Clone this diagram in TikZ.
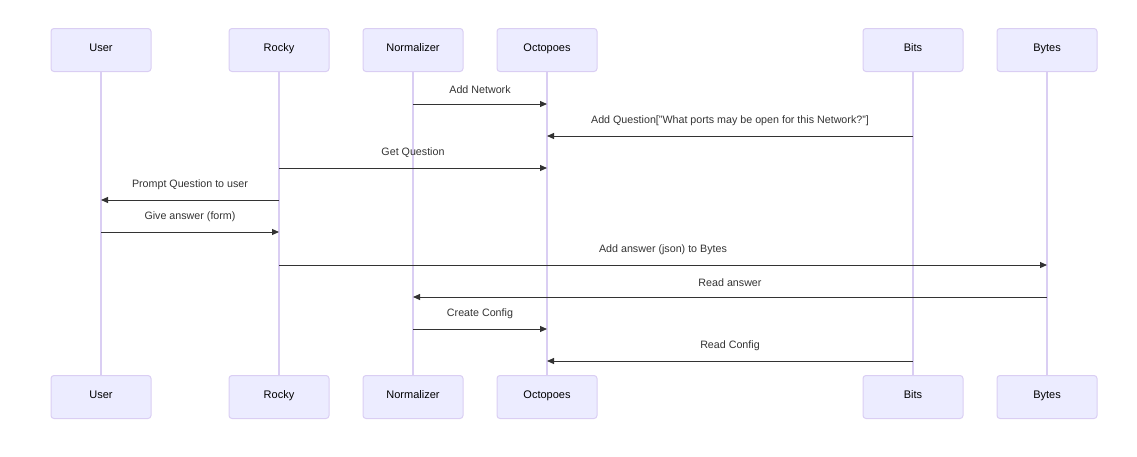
\documentclass[tikz,border=0pt]{standalone}
\usepackage{fontspec}
\setmainfont{Liberation Sans}
\usetikzlibrary{arrows.meta}
\definecolor{actfill}{HTML}{ECECFF}
\definecolor{actline}{HTML}{DACEF3}
\definecolor{msgcol}{HTML}{333333}
\tikzset{
  actor/.style={draw=actline, fill=actfill, line width=1pt, rounded corners=3pt,
    minimum width=100pt, minimum height=43pt, inner sep=0pt, anchor=north,
    font=\fontsize{11}{13}\selectfont, text=black, text depth=0pt},
  life/.style={draw=actline, line width=1.5pt},
  msg/.style={draw=msgcol, line width=1pt, -{Triangle[length=7pt,width=6pt]}},
  lbl/.style={font=\fontsize{10.7}{13}\selectfont, text=msgcol, inner sep=0pt}
}
\begin{document}
\begin{tikzpicture}[x=1pt,y=-1pt]
\useasboundingbox (0,0) rectangle (1137,456);
% top actors
\node[actor] (ut) at (101,28) {\raisebox{5pt}{User}};
\node[actor] (rt) at (279,28) {\raisebox{5pt}{Rocky}};
\node[actor] (nt) at (413,28) {\raisebox{5pt}{Normalizer}};
\node[actor] (ot) at (547,28) {\raisebox{5pt}{Octopoes}};
\node[actor] (bt) at (913,28) {\raisebox{5pt}{Bits}};
\node[actor] (yt) at (1047,28) {\raisebox{5pt}{Bytes}};
% bottom actors
\node[actor] (ub) at (101,375) {\raisebox{5pt}{User}};
\node[actor] (rb) at (279,375) {\raisebox{5pt}{Rocky}};
\node[actor] (nb) at (413,375) {\raisebox{5pt}{Normalizer}};
\node[actor] (ob) at (547,375) {\raisebox{5pt}{Octopoes}};
\node[actor] (bb) at (913,375) {\raisebox{5pt}{Bits}};
\node[actor] (yb) at (1047,375) {\raisebox{5pt}{Bytes}};
% lifelines
\draw[life] (ut.south) -- (ub.north);
\draw[life] (rt.south) -- (rb.north);
\draw[life] (nt.south) -- (nb.north);
\draw[life] (ot.south) -- (ob.north);
\draw[life] (bt.south) -- (bb.north);
\draw[life] (yt.south) -- (yb.north);
% message rows
\coordinate (m1) at (0,104);
\coordinate (m2) at (0,136);
\coordinate (m3) at (0,168);
\coordinate (m4) at (0,200);
\coordinate (m5) at (0,232);
\coordinate (m6) at (0,265);
\coordinate (m7) at (0,297);
\coordinate (m8) at (0,329);
\coordinate (m9) at (0,361);
\draw[msg] (nt |- m1) -- node[lbl, above=10pt] {Add Network} (ot |- m1);
\draw[msg] (bt |- m2) -- node[lbl, above=10pt] {Add Question["What ports may be open for this Network?"]} (ot |- m2);
\draw[msg] (rt |- m3) -- node[lbl, above=10pt] {Get Question} (ot |- m3);
\draw[msg] (rt |- m4) -- node[lbl, above=10pt] {Prompt Question to user} (ut |- m4);
\draw[msg] (ut |- m5) -- node[lbl, above=10pt] {Give answer (form)} (rt |- m5);
\draw[msg] (rt |- m6) -- node[lbl, above=10pt] {Add answer (json) to Bytes} (yt |- m6);
\draw[msg] (yt |- m7) -- node[lbl, above=10pt] {Read answer} (nt |- m7);
\draw[msg] (nt |- m8) -- node[lbl, above=10pt] {Create Config} (ot |- m8);
\draw[msg] (bt |- m9) -- node[lbl, above=10pt] {Read Config} (ot |- m9);
\end{tikzpicture}
\end{document}
